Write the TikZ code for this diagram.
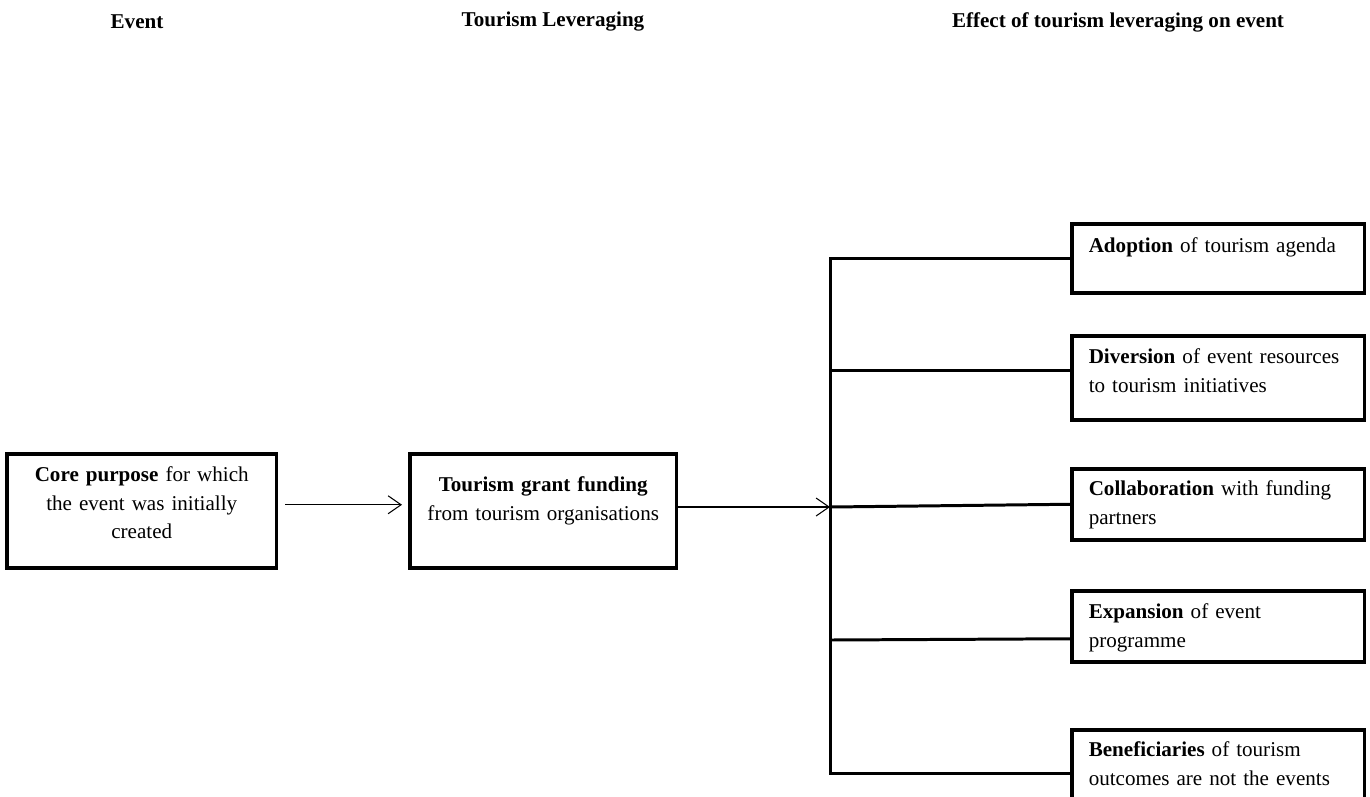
\documentclass[tikz,border=0pt]{standalone}
\usepackage{fontspec}
\setmainfont{Liberation Serif}
\usetikzlibrary{arrows.meta}
\tikzset{main box/.style={draw,line width=2pt,anchor=north west,inner ysep=0pt,font=\fontsize{12}{16.2}\selectfont},
  left box/.style={main box,align=center},
  effect box/.style={main box,inner xsep=0.34cm,text width=5.18cm,align=left},
  head node/.style={font=\fontsize{12}{14}\selectfont\bfseries},
  trunk/.style={line width=1.7pt},
  flow/.style={line width=0.6pt,-{Straight Barb[length=0.26cm,width=0.36cm]}} }

\begin{document}
\begin{tikzpicture}[x=0.02cm,y=-0.02cm]
\useasboundingbox (0,0) rectangle (1370,796);

  % column heads
  \node[head node] (h1) at (137,22) {Event};
  \node[head node] (h2) at (553,22) {Tourism Leveraging};
  \node[head node] (h3) at (1118,22) {Effect of tourism leveraging on event};

  \node[left box,inner xsep=0.4cm,text width=4.6cm,text height=0.56cm,text depth=1.72cm] (core) at (5,452)
    {\textbf{Core purpose} for which\\ the event was initially\\ created};
  \node[left box,inner xsep=0.17cm,text width=5cm,text height=0.76cm,text depth=1.52cm] (grant) at (408,452)
    {\textbf{Tourism grant funding}\\ from tourism organisations};

  \node[effect box,text height=0.58cm,text depth=0.8cm] (adopt) at (1070,222)
    {\textbf{Adoption} of tourism agenda};
  \node[effect box,text height=0.56cm,text depth=1.12cm] (divert) at (1070,334)
    {\textbf{Diversion} of event resources\\ to tourism initiatives};
  \node[effect box,text height=0.54cm,text depth=0.88cm] (collab) at (1070,467)
    {\textbf{Collaboration} with funding\\ partners};
  \node[effect box,text height=0.56cm,text depth=0.86cm] (expand) at (1070,589)
    {\textbf{Expansion} of event\\ programme};
  \node[effect box,text height=0.54cm,text depth=1.3cm] (benef) at (1070,728)
    {\textbf{Beneficiaries} of tourism\\ outcomes are not the events};

  % trunk of the tree
  \coordinate (t1) at (830,258);
  \coordinate (t2) at (830,370);
  \coordinate (t3) at (830,507);
  \coordinate (t4) at (830,640);
  \coordinate (t5) at (830,773);

  \draw[trunk] (adopt.west |- t1) -- (t1) -- (t5) -- (benef.west |- t5);
  \draw[trunk] (t2) -- (divert.west |- t2);
  \draw[trunk] (t3) -- (collab.west);
  \draw[trunk] (t4) -- ([yshift=-0.25cm]expand.west);

  \draw[flow,shorten <=0.14cm,shorten >=0.12cm] ([yshift=0.12cm]core.east) -- ([yshift=0.12cm]grant.west);
  \draw[flow] (grant.east |- t3) -- (t3);
\end{tikzpicture}
\end{document}
